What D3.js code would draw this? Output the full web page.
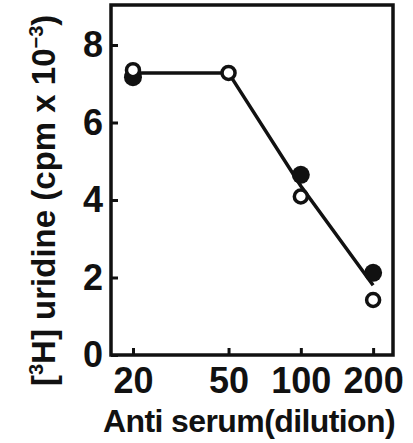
<!DOCTYPE html>
<html>
<head>
<meta charset="utf-8">
<script src="https://cdn.jsdelivr.net/npm/d3@7"></script>
<style>
  html, body { margin: 0; padding: 0; background: #fff; }
  text { font-family: "Liberation Sans", Arial, sans-serif; font-weight: bold; fill: #111; }
</style>
</head>
<body>
<div id="chart"></div>
<script>
// data
const dilutions = [20, 50, 100, 200];
const openValues = [7.35, 7.28, 4.09, 1.42];
const filledDilutions = [20, 100, 200];
const filledValues = [7.17, 4.65, 2.12];
const lineValues = [7.28, 7.28, 4.36, 1.8];
const yTicks = [0, 2, 4, 6, 8];

const width = 413, height = 443;
const plotLeft = 111, plotRight = 393, plotTop = 5, plotBottom = 355;

const svg = d3.select("#chart").append("svg")
  .attr("width", width)
  .attr("height", height);

const x = d3.scaleLog().domain([16.2, 242]).range([plotLeft, plotRight]);
const y = d3.scaleLinear().domain([0, 8]).range([plotBottom, 45]);

// axes, ticks pointing inward
const yAxis = svg.append("g")
  .attr("transform", `translate(${plotLeft},0)`)
  .call(d3.axisLeft(y).tickValues(yTicks).tickSize(-7).tickSizeOuter(0).tickPadding(8));

const xAxis = svg.append("g")
  .attr("transform", `translate(0,${plotBottom})`)
  .call(d3.axisBottom(x).tickValues(dilutions).tickFormat(d3.format("d"))
    .tickSize(-7).tickSizeOuter(0).tickPadding(12));

[yAxis, xAxis].forEach(g => {
  g.attr("font-size", null).attr("font-family", null);
  g.select(".domain").remove();
  g.selectAll("line").attr("stroke", "#111").attr("stroke-width", 3);
  g.selectAll("text").style("font-size", "36px").attr("fill", "#111");
});

// frame
svg.append("rect")
  .attr("x", plotLeft).attr("y", plotTop)
  .attr("width", plotRight - plotLeft).attr("height", plotBottom - plotTop)
  .attr("fill", "none")
  .attr("stroke", "#111")
  .attr("stroke-width", 3.5);

// line
const line = d3.line()
  .x((d, i) => x(dilutions[i]))
  .y(d => y(d));

svg.append("path")
  .datum(lineValues)
  .attr("d", line)
  .attr("fill", "none")
  .attr("stroke", "#111")
  .attr("stroke-width", 3.5);

// filled circles
svg.selectAll(".filled")
  .data(filledValues)
  .enter()
  .append("circle")
  .attr("class", "filled")
  .attr("cx", (d, i) => x(filledDilutions[i]))
  .attr("cy", d => y(d))
  .attr("r", 9)
  .attr("fill", "#111");

// open circles
svg.selectAll(".open")
  .data(openValues)
  .enter()
  .append("circle")
  .attr("class", "open")
  .attr("cx", (d, i) => x(dilutions[i]))
  .attr("cy", d => y(d))
  .attr("r", 6.5)
  .attr("fill", "#fff")
  .attr("stroke", "#111")
  .attr("stroke-width", 3.5);

// x title
svg.append("text")
  .attr("x", 103)
  .attr("y", 432)
  .style("font-size", "32px")
  .attr("letter-spacing", -0.6)
  .text("Anti serum(dilution)");

// y title
const yTitle = svg.append("text")
  .attr("transform", "translate(55,386) rotate(-90)")
  .style("font-size", "33px");
yTitle.append("tspan").text("[");
yTitle.append("tspan").style("font-size", "20px").attr("dy", -12).text("3");
yTitle.append("tspan").attr("dy", 12).text("H]");
yTitle.append("tspan").text(" uridine (cpm x 10");
yTitle.append("tspan").style("font-size", "20px").attr("dy", -12).text("\u22123");
yTitle.append("tspan").attr("dy", 12).text(")");
</script>
</body>
</html>
